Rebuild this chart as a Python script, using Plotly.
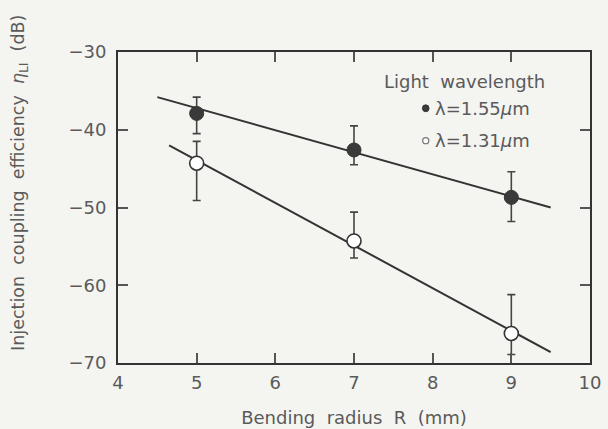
import plotly.graph_objects as go

# Data
radius = [5, 7, 9]
eta_155 = [-37.9, -42.6, -48.7]
err_up_155 = [2.1, 3.1, 3.3]
err_dn_155 = [2.6, 1.9, 3.1]
eta_131 = [-44.3, -54.3, -66.2]
err_up_131 = [2.8, 3.7, 5.0]
err_dn_131 = [4.8, 2.2, 2.7]
fit_x_155 = [4.5, 9.5]
fit_y_155 = [-35.8, -50.0]
fit_x_131 = [4.65, 9.5]
fit_y_131 = [-42.0, -68.6]
x_ticks = [4, 5, 6, 7, 8, 9, 10]
y_ticks = [-70, -60, -50, -40, -30]

INK = "#333333"
TXT = "#5a5a5a"
BG = "#f4f4f1"
FONT = "DejaVu Sans"

fig = go.Figure()
fig.add_trace(go.Scatter(x=fit_x_155, y=fit_y_155, mode="lines",
                         line=dict(color=INK, width=2), showlegend=False))
fig.add_trace(go.Scatter(x=fit_x_131, y=fit_y_131, mode="lines",
                         line=dict(color=INK, width=2), showlegend=False))
fig.add_trace(go.Scatter(
    x=radius, y=eta_155, mode="markers",
    marker=dict(size=14, color="#3a3a3a", line=dict(color=INK, width=1)),
    error_y=dict(type="data", symmetric=False, array=err_up_155, arrayminus=err_dn_155,
                 color="#444444", thickness=1.6, width=4),
    showlegend=False))
fig.add_trace(go.Scatter(
    x=radius, y=eta_131, mode="markers",
    marker=dict(size=14, color="white", line=dict(color=INK, width=1.6)),
    error_y=dict(type="data", symmetric=False, array=err_up_131, arrayminus=err_dn_131,
                 color="#444444", thickness=1.6, width=4),
    showlegend=False))

axis_common = dict(showline=True, linecolor=INK, linewidth=2, mirror="ticks",
                   ticks="inside", ticklen=10, tickwidth=1.5, tickcolor="#555555",
                   showgrid=False, zeroline=False, automargin=False,
                   tickfont=dict(family=FONT, size=18, color=TXT))

fig.update_xaxes(range=[4, 10], tickvals=x_ticks, ticktext=[str(v) for v in x_ticks],
                 ticklabelstandoff=2,
                 title=dict(text="Bending  radius  R  (mm)", standoff=20,
                            font=dict(family=FONT, size=18, color=TXT)),
                 **axis_common)
fig.update_yaxes(range=[-70, -30], tickvals=y_ticks,
                 ticktext=["\u221270", "\u221260", "\u221250", "\u221240", "\u221230"],
                 ticklabelstandoff=6,
                 **axis_common)

# Y axis title (positioned as in the reference, slightly above centre)
fig.add_annotation(x=-0.2076, y=0.579, xref="paper", yref="paper",
                   xanchor="center", yanchor="middle", textangle=-90, showarrow=False,
                   text="Injection  coupling  efficiency  <i>\u03b7</i><sub>LI</sub>  (dB)",
                   font=dict(family=FONT, size=17.5, color=TXT))

# Legend drawn manually
fig.add_annotation(x=0.56, y=0.905, xref="paper", yref="paper", xanchor="left", yanchor="middle",
                   text="Light  wavelength", showarrow=False,
                   font=dict(family=FONT, size=18, color=TXT))
fig.add_annotation(x=0.667, y=0.818, xref="paper", yref="paper", xanchor="left", yanchor="middle",
                   text="\u03bb=1.55<i>\u03bc</i>m", showarrow=False,
                   font=dict(family=FONT, size=18, color=TXT))
fig.add_annotation(x=0.667, y=0.715, xref="paper", yref="paper", xanchor="left", yanchor="middle",
                   text="\u03bb=1.31<i>\u03bc</i>m", showarrow=False,
                   font=dict(family=FONT, size=18, color=TXT))
fig.add_shape(type="circle", xref="paper", yref="paper",
              x0=0.645, x1=0.659, y0=0.808, y1=0.830,
              fillcolor="#3a3a3a", line=dict(color=INK, width=1))
fig.add_shape(type="circle", xref="paper", yref="paper",
              x0=0.6455, x1=0.6585, y0=0.705, y1=0.725,
              fillcolor="white", line=dict(color="#777777", width=1.2))

fig.update_layout(width=608, height=429, margin=dict(l=118, r=18, t=52, b=66),
                  paper_bgcolor=BG, plot_bgcolor=BG,
                  font=dict(family=FONT, color=TXT))

fig.write_html("out.html")
